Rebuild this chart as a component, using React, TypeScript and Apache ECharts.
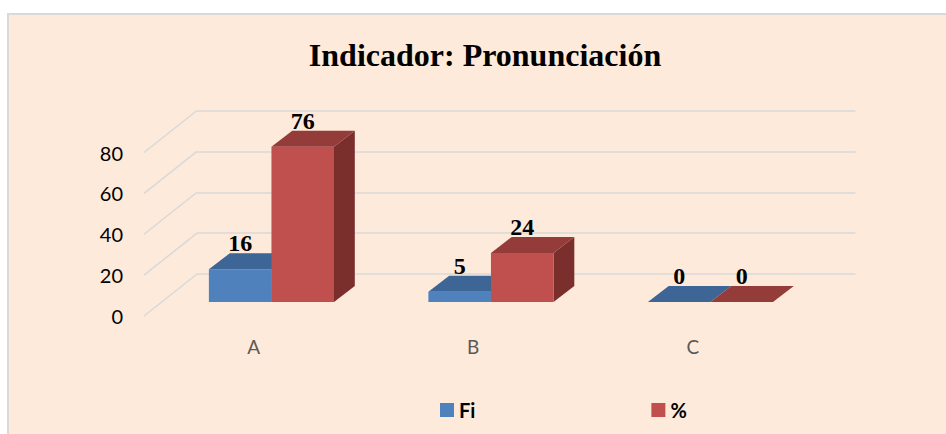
import React, { useEffect, useRef } from "react";
import * as echarts from "echarts";

const categories = ["A", "B", "C"];
const fiValues = [16, 5, 0];
const pctValues = [76, 24, 0];
const yTicks = [0, 20, 40, 60, 80];
const seriesNames = ["Fi", "%"];

const FRONT = { dx: 17.7, dy: -14 };
const BACK = { dx: 38.5, dy: -30 };
const DEPTH = { dx: 53, dy: -42 };

const palettes = [
  { front: "#4F81BD", top: "#3D6595", side: "#385D8A" },
  { front: "#C0504D", top: "#943C3A", side: "#7A2F2D" },
];

function barRenderer(seriesIdx: number) {
  return (params: any, api: any) => {
    const cat = api.value(0);
    const v = api.value(1);
    const base = api.coord([cat, 0]);
    const top = api.coord([cat, v]);
    const band = api.size([1, 0])[0];
    const barW = band * 0.285;
    const x0 = base[0] - barW + seriesIdx * barW;
    const x1 = x0 + barW;
    const ty = top[1];
    const by = base[1];
    const p = palettes[seriesIdx];
    const children: any[] = [];
    children.push({
      type: "polygon",
      shape: {
        points: [
          [x1 + FRONT.dx, ty + FRONT.dy],
          [x1 + BACK.dx, ty + BACK.dy],
          [x1 + BACK.dx, by + BACK.dy],
          [x1 + FRONT.dx, by + FRONT.dy],
        ],
      },
      style: { fill: p.side },
    });
    if (by - ty > 0.1) {
      children.push({
        type: "rect",
        shape: { x: x0 + FRONT.dx, y: ty + FRONT.dy, width: barW, height: by - ty },
        style: { fill: p.front },
      });
    }
    children.push({
      type: "polygon",
      shape: {
        points: [
          [x0 + FRONT.dx, ty + FRONT.dy],
          [x1 + FRONT.dx, ty + FRONT.dy],
          [x1 + BACK.dx, ty + BACK.dy],
          [x0 + BACK.dx, ty + BACK.dy],
        ],
      },
      style: { fill: p.top },
    });
    children.push({
      type: "text",
      style: {
        x: (x0 + x1) / 2 + FRONT.dx,
        y: ty + BACK.dy + 2,
        text: String(v),
        align: "center",
        verticalAlign: "bottom",
        font: 'bold 24px "Liberation Serif"',
        fill: "#000",
      },
    });
    return { type: "group", children };
  };
}

export default function App() {
  const ref = useRef<HTMLDivElement>(null);
  useEffect(() => {
    if (!ref.current) return;
    const chart = echarts.init(ref.current, undefined, { renderer: "svg" });
    const frontGrid = { left: 144, top: 152.5, width: 658.5, height: 163.5 };
    const backGrid = {
      left: 144 + DEPTH.dx,
      top: 152.5 + DEPTH.dy,
      width: 658.5,
      height: 163.5,
    };
    chart.setOption({
      animation: false,
      graphic: [
        {
          type: "rect",
          z: -10,
          shape: { x: 8, y: 14, width: 960, height: 440 },
          style: { fill: "#FDEADA", stroke: "#D9D9D9", lineWidth: 2 },
          silent: true,
        },
        {
          type: "text",
          x: 485,
          y: 55,
          style: {
            text: "Indicador: Pronunciación",
            align: "center",
            verticalAlign: "middle",
            font: 'bold 32px "Liberation Serif"',
            fill: "#000",
          },
        },
      ],
      legend: {
        left: 435,
        top: 395,
        itemWidth: 14,
        itemHeight: 14,
        itemGap: 176,
        icon: "rect",
        data: seriesNames,
        textStyle: { fontFamily: "Lato", fontWeight: "bold", fontSize: 20, color: "#000" },
      },
      grid: [
        { ...frontGrid, containLabel: false },
        { ...backGrid, containLabel: false },
      ],
      xAxis: [
        {
          type: "category",
          gridIndex: 0,
          data: categories,
          axisLine: { show: false },
          axisTick: { show: false },
          axisLabel: { margin: 21, fontFamily: "Lato", fontSize: 19, color: "#595959" },
        },
        {
          type: "category",
          gridIndex: 1,
          data: categories,
          axisLine: { show: false },
          axisTick: { show: false },
          axisLabel: { show: false },
        },
      ],
      yAxis: [
        {
          type: "value",
          gridIndex: 0,
          min: 0,
          max: 80,
          interval: 20,
          axisLine: { show: false },
          axisTick: { show: false },
          splitLine: { show: false },
          axisLabel: { margin: 21, fontFamily: "Lato", fontSize: 20, color: "#000" },
        },
        {
          type: "value",
          gridIndex: 1,
          min: 0,
          max: 80,
          interval: 20,
          axisLine: { show: false },
          axisTick: { show: false },
          axisLabel: { show: false },
          splitLine: { show: true, lineStyle: { color: "#D9D9D9", width: 1.5 } },
        },
      ],
      series: [
        {
          type: "custom",
          name: "diag",
          xAxisIndex: 0,
          yAxisIndex: 0,
          silent: true,
          data: yTicks.map((t) => [0, t]),
          encode: { x: 0, y: 1 },
          renderItem: (params: any, api: any) => {
            const pt = api.coord([0, api.value(1)]);
            const left = params.coordSys.x;
            return {
              type: "line",
              shape: { x1: left, y1: pt[1], x2: left + DEPTH.dx, y2: pt[1] + DEPTH.dy },
              style: { stroke: "#D9D9D9", lineWidth: 1.5 },
            };
          },
        },
        {
          type: "custom",
          name: seriesNames[0],
          xAxisIndex: 0,
          yAxisIndex: 0,
          itemStyle: { color: palettes[0].front },
          data: fiValues.map((v, i) => [i, v]),
          encode: { x: 0, y: 1 },
          renderItem: barRenderer(0),
        },
        {
          type: "custom",
          name: seriesNames[1],
          xAxisIndex: 0,
          yAxisIndex: 0,
          itemStyle: { color: palettes[1].front },
          data: pctValues.map((v, i) => [i, v]),
          encode: { x: 0, y: 1 },
          renderItem: barRenderer(1),
        },
      ],
    });
    return () => chart.dispose();
  }, []);
  return (
    <div
      ref={ref}
      style={{ position: "absolute", left: 0, top: 0, width: 946, height: 434 }}
    />
  );
}
